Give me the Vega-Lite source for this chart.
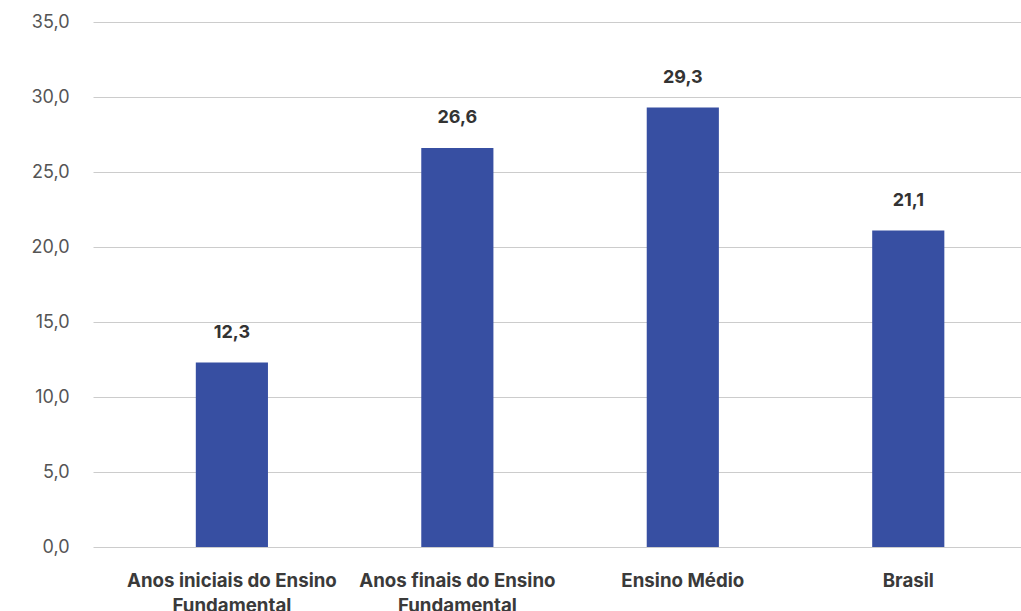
{
  "$schema": "https://vega.github.io/schema/vega-lite/v6.json",
  "width": 928,
  "height": 525,
  "autosize": {"type": "none"},
  "padding": {"left": 93, "top": 22, "right": 0, "bottom": 64},
  "background": "white",
  "data": {"values": [
    {"categoria": "Anos iniciais do Ensino Fundamental", "valor": 12.3},
    {"categoria": "Anos finais do Ensino Fundamental", "valor": 26.6},
    {"categoria": "Ensino Médio", "valor": 29.3},
    {"categoria": "Brasil", "valor": 21.1}
  ]},
  "transform": [
    {"calculate": "replace(format(datum.valor, '.1f'), '.', ',')", "as": "rotulo"}
  ],
  "encoding": {
    "x": {
      "field": "categoria", "type": "nominal", "sort": null,
      "scale": {"paddingInner": 0, "paddingOuter": 0.058, "align": 1},
      "axis": {
        "title": null, "domain": false, "ticks": false, "labelAngle": 0,
        "labelFont": "Inter", "labelFontSize": 18.7, "labelFontWeight": "bold",
        "labelColor": "#3a3a3a", "labelPadding": 24, "labelLineHeight": 25,
        "labelExpr": "datum.value == 'Anos iniciais do Ensino Fundamental' ? ['Anos iniciais do Ensino', 'Fundamental'] : datum.value == 'Anos finais do Ensino Fundamental' ? ['Anos finais do Ensino', 'Fundamental'] : datum.value",
        "labelLimit": 400
      }
    },
    "y": {
      "field": "valor", "type": "quantitative",
      "scale": {"domain": [0, 35], "nice": false},
      "axis": {
        "title": null, "domain": false, "ticks": false,
        "values": [0, 5, 10, 15, 20, 25, 30, 35],
        "labelExpr": "replace(format(datum.value, '.1f'), '.', ',')",
        "labelFont": "Inter", "labelFontSize": 18, "labelColor": "#555555",
        "labelPadding": 24,
        "grid": true, "gridColor": "#cccccc", "gridWidth": 1
      }
    }
  },
  "layer": [
    {"mark": {"type": "bar", "color": "#374fa2", "width": {"band": 0.32}}},
    {
      "mark": {"type": "text", "font": "Inter", "fontSize": 18, "fontWeight": "bold", "color": "#333333", "baseline": "middle", "dy": -30},
      "encoding": {"text": {"field": "rotulo"}}
    }
  ],
  "config": {"view": {"stroke": null}}
}
